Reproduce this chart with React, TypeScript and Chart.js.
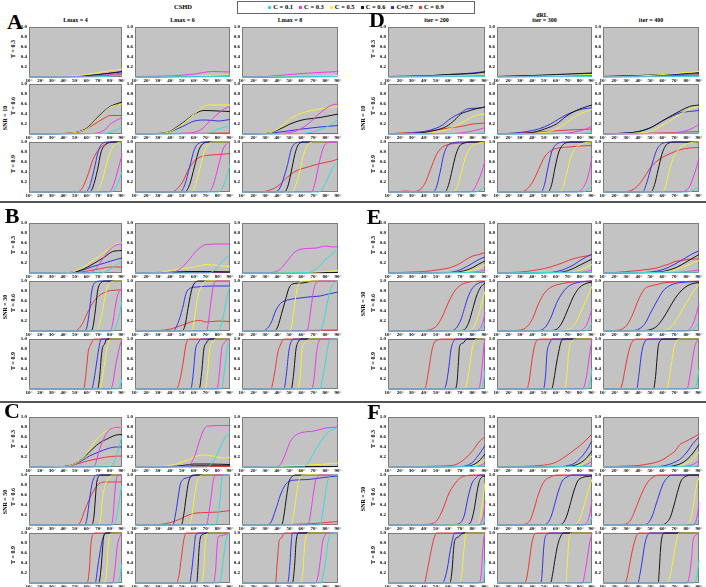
import React, { useEffect, useRef } from 'react';
import { Chart, registerables } from 'chart.js';
Chart.register(...registerables);

// ---- labels ----
const SERIES_LABELS = ['C = 0.1', 'C = 0.3', 'C = 0.5', 'C = 0.6', 'C=0.7', 'C = 0.9'];
const SERIES_COLORS = ['#3adada', '#e83ee8', '#f2f23a', '#151515', '#3434e6', '#ea3a3a'];
const CSHD_COLS = ['Lmax = 4', 'Lmax = 6', 'Lmax = 8'];
const DRL_COLS = ['iter = 200', 'iter = 300', 'iter = 400'];
const T_LABELS = ['T = 0.3', 'T = 0.6', 'T = 0.9'];
const SNR_LABELS = ['SNR = 10', 'SNR = 30', 'SNR = 50'];
const X_MIN = 10, X_MAX = 90, X_STEP = 10;
const Y_MIN = 0, Y_MAX = 1, Y_STEP = 0.2;

// Each series: flat list of (angle°, rate) pairs. Order: C=0.1, 0.3, 0.5, 0.6, 0.7, 0.9
// ---- Panel A: CSHD, SNR = 10 ----
const A11 = [
  [10,0,60,0,75,0.01,90,0.04],
  [10,0,60,0.01,80,0.05,90,0.08],
  [10,0,40,0.01,60,0.05,80,0.13,90,0.16],
  [10,0,50,0.01,70,0.05,90,0.11],
  [10,0,50,0.01,70,0.05,90,0.1],
  [10,0,60,0.01,90,0.05],
];
const A12 = [
  [10,0,90,0.01],
  [10,0,40,0.02,60,0.06,75,0.11,90,0.1],
  [10,0,50,0.02,90,0.04],
  [10,0,90,0.02],
  [10,0.01,90,0.02],
  [10,0,90,0.01],
];
const A13 = [
  [10,0,90,0.01],
  [10,0,30,0.01,60,0.07,90,0.11],
  [10,0,90,0.03],
  [10,0,90,0.02],
  [10,0,90,0.01],
  [10,0,90,0.01],
];
const A21 = [
  [10,0,75,0.01,85,0.08,90,0.15],
  [10,0,65,0.01,75,0.08,80,0.2,90,0.33],
  [10,0,40,0.01,50,0.03,60,0.11,70,0.34,80,0.54,90,0.6],
  [10,0,40,0.01,50,0.03,60,0.12,70,0.35,80,0.55,90,0.64],
  [10,0,40,0.01,50,0.03,60,0.12,70,0.36,80,0.55,90,0.6],
  [10,0,40,0.01,55,0.05,65,0.18,75,0.32,80,0.37,90,0.37],
];
const A22 = [
  [10,0,70,0.01,80,0.1,90,0.17],
  [10,0,55,0.02,65,0.08,75,0.3,85,0.5,90,0.55],
  [10,0,35,0.02,50,0.2,60,0.4,72,0.58,90,0.58],
  [10,0,35,0.02,50,0.22,60,0.4,68,0.47,80,0.46,90,0.45],
  [10,0,35,0.02,50,0.15,60,0.26,70,0.28,80,0.26,90,0.29],
  [10,0,90,0.02],
];
const A23 = [
  [10,0,60,0.01,70,0.05,85,0.2,90,0.3],
  [10,0,40,0.01,55,0.06,65,0.2,75,0.42,85,0.58,90,0.6],
  [10,0,30,0.01,40,0.1,50,0.3,60,0.42,75,0.5,90,0.55],
  [10,0,30,0.01,40,0.08,50,0.2,60,0.28,75,0.33,90,0.4],
  [10,0,30,0.01,45,0.05,60,0.1,75,0.14,90,0.17],
  [10,0,90,0.01],
];
const A31 = [
  [10,0,80,0,85,0.1,90,0.4],
  [10,0,78,0,82,0.1,86,0.4,90,0.75],
  [10,0,68,0,72,0.15,76,0.5,80,0.8,85,0.97,90,1],
  [10,0,62,0,65,0.1,69,0.45,72,0.8,76,0.95,82,1,90,1],
  [10,0,58,0,62,0.1,66,0.45,70,0.85,73,0.97,78,1,90,1],
  [10,0,50,0,55,0.05,60,0.3,65,0.65,70,0.85,75,0.95,80,0.99,90,1],
];
const A32 = [
  [10,0,80,0,84,0.1,87,0.3,90,0.55],
  [10,0,72,0,76,0.15,80,0.5,84,0.85,88,0.98,90,1],
  [10,0,57,0,61,0.15,65,0.5,69,0.85,73,0.98,76,1,90,1],
  [10,0,52,0,56,0.15,60,0.5,64,0.85,68,0.98,72,1,90,1],
  [10,0,48,0,52,0.15,56,0.5,60,0.85,64,0.98,68,1,90,1],
  [10,0,40,0,45,0.05,50,0.2,55,0.45,60,0.62,65,0.7,70,0.73,80,0.75,90,0.77],
];
const A33 = [
  [10,0,74,0,78,0.1,82,0.3,86,0.5,90,0.62],
  [10,0,68,0,71,0.2,74,0.55,78,0.9,82,0.99,90,1],
  [10,0,52,0,55,0.15,58,0.4,62,0.8,65,0.95,70,1,90,1],
  [10,0,45,0,48,0.1,51,0.4,54,0.75,57,0.95,62,1,90,1],
  [10,0,38,0,42,0.1,45,0.3,48,0.55,51,0.85,55,0.98,60,1,90,1],
  [10,0,25,0,32,0.03,40,0.12,48,0.3,55,0.42,65,0.5,75,0.57,85,0.62,90,0.66],
];

// ---- Panel B: CSHD, SNR = 30 ----
const B11 = [
  [10,0,72,0,80,0.08,85,0.16,90,0.25],
  [10,0,62,0,68,0.1,74,0.3,80,0.48,85,0.56,90,0.58],
  [10,0,45,0.01,55,0.1,65,0.25,75,0.42,85,0.58,90,0.6],
  [10,0,45,0.01,55,0.06,65,0.18,75,0.32,82,0.43,90,0.45],
  [10,0,45,0.01,55,0.05,65,0.13,75,0.2,85,0.27,90,0.3],
  [10,0,50,0.01,60,0.04,70,0.08,80,0.12,90,0.12],
];
const B12 = [
  [10,0,72,0,78,0.08,84,0.25,90,0.37],
  [10,0,40,0.01,48,0.08,55,0.25,62,0.45,70,0.57,80,0.58,90,0.58],
  [10,0,30,0.01,40,0.05,50,0.09,60,0.12,70,0.17,80,0.15,90,0.13],
  [10,0,40,0.01,55,0.03,70,0.03,90,0.02],
  [10,0,50,0.02,70,0.02,90,0.02],
  [10,0,90,0.01],
];
const B13 = [
  [10,0,65,0.01,72,0.08,80,0.28,90,0.48],
  [10,0,35,0.01,42,0.08,48,0.25,54,0.42,60,0.48,72,0.5,80,0.54,85,0.52,90,0.53],
  [10,0,60,0.01,80,0.03,90,0.05],
  [10,0,90,0.01],
  [10,0,90,0.01],
  [10,0,90,0.01],
];
const B21 = [
  [10,0,82,0,85,0.1,88,0.35,90,0.6],
  [10,0,80,0,82,0.15,84,0.45,86,0.7,88,0.8,90,0.82],
  [10,0,68,0,71,0.15,74,0.5,77,0.85,80,0.97,84,1,90,1],
  [10,0,63,0,65,0.08,67,0.4,69,0.8,72,0.97,76,1,90,1],
  [10,0,58,0,60,0.1,62,0.4,64,0.8,67,0.97,72,1,90,1],
  [10,0,48,0,52,0.03,56,0.15,60,0.35,65,0.57,70,0.7,75,0.77,80,0.81,90,0.82],
];
const B22 = [
  [10,0,80,0,83,0.15,86,0.5,88,0.75,90,0.9],
  [10,0,70,0,72,0.2,74,0.6,76,0.9,78,1,90,1],
  [10,0,57,0,59,0.1,61,0.4,63,0.7,66,0.9,70,1,90,1],
  [10,0,49,0,52,0.1,55,0.5,58,0.85,61,0.98,64,1,90,1],
  [10,0,42,0,46,0.15,50,0.45,53,0.75,56,0.85,62,0.88,75,0.9,90,0.9],
  [10,0,30,0.01,40,0.04,50,0.12,60,0.2,65,0.21,70,0.18,80,0.2,90,0.19],
];
const B23 = [
  [10,0,75,0,78,0.2,81,0.55,84,0.85,87,0.97,90,1],
  [10,0,64,0,66,0.2,68,0.55,70,0.85,72,0.97,76,1,90,1],
  [10,0,50,0,52,0.2,54,0.55,56,0.85,58,0.97,62,1,90,1],
  [10,0,37,0,40,0.1,43,0.35,46,0.6,49,0.85,52,0.94,60,0.96,70,1,90,1],
  [10,0,27,0,30,0.03,34,0.15,38,0.4,42,0.55,48,0.62,55,0.65,65,0.68,75,0.7,82,0.74,90,0.78],
  [10,0,60,0.01,90,0.02],
];
const B31 = [
  [10,0,86,0,88,0.05,90,0.2],
  [10,0,80,0,82,0.1,84,0.4,86,0.65,88,0.85,90,1],
  [10,0,71,0,73,0.2,75,0.5,77,0.8,80,1,90,1],
  [10,0,69,0,71,0.3,72,0.6,73,0.8,75,0.9,77,1,90,1],
  [10,0,64,0,66,0.2,68,0.5,70,0.8,72,1,90,1],
  [10,0,57,0,59,0.3,61,0.75,63,0.88,66,1,90,1],
];
const B32 = [
  [10,0,83,0,85,0.3,87,0.7,88,0.88,90,0.95],
  [10,0,79,0,81,0.3,83,0.8,85,0.92,87,0.97,90,1],
  [10,0,69,0,71,0.3,73,0.8,75,0.92,78,1,90,1],
  [10,0,64,0,66,0.3,68,0.8,70,0.92,73,1,90,1],
  [10,0,57,0,59,0.3,61,0.8,63,0.92,66,1,90,1],
  [10,0,45,0,48,0.2,51,0.6,53,0.9,56,1,90,1],
];
const B33 = [
  [10,0,75,0,77,0.2,80,0.6,82,0.9,84,1,90,1],
  [10,0,68,0,70,0.2,72,0.7,74,0.95,77,1,90,1],
  [10,0,57,0,59,0.4,60,0.8,63,0.93,66,1,90,1],
  [10,0,51,0,53,0.3,55,0.8,57,0.95,60,1,90,1],
  [10,0,45,0,47,0.3,49,0.75,51,0.95,54,1,90,1],
  [10,0,34,0,37,0.3,40,0.75,42,0.88,45,1,90,1],
];

// ---- Panel C: CSHD, SNR = 50 ----
const C11 = [
  [10,0,78,0,82,0.05,85,0.2,88,0.45,90,0.62],
  [10,0,64,0,67,0.05,70,0.3,74,0.55,78,0.72,83,0.78,90,0.8],
  [10,0,40,0.01,48,0.05,55,0.15,62,0.35,68,0.55,75,0.7,82,0.77,90,0.8],
  [10,0,40,0.01,48,0.05,55,0.15,62,0.3,70,0.47,78,0.57,85,0.64,90,0.65],
  [10,0,40,0.01,48,0.05,55,0.12,62,0.22,70,0.3,78,0.37,85,0.4,90,0.4],
  [10,0,40,0.01,50,0.05,60,0.12,70,0.17,80,0.21,90,0.22],
];
const C12 = [
  [10,0,70,0,74,0.05,78,0.2,82,0.4,86,0.6,90,0.7],
  [10,0,50,0.01,56,0.05,60,0.2,64,0.5,68,0.75,72,0.82,90,0.83],
  [10,0,30,0.01,45,0.06,55,0.15,62,0.22,68,0.24,75,0.22,85,0.18,90,0.19],
  [10,0,40,0.01,50,0.03,60,0.06,70,0.06,90,0.05],
  [10,0,50,0.01,60,0.03,90,0.03],
  [10,0,90,0.01],
];
const C13 = [
  [10,0,60,0,64,0.05,68,0.2,74,0.45,80,0.65,85,0.75,90,0.78],
  [10,0,38,0,42,0.05,46,0.25,50,0.5,55,0.64,60,0.69,70,0.72,80,0.78,90,0.8],
  [10,0,40,0.01,60,0.03,80,0.06,90,0.08],
  [10,0,90,0.01],
  [10,0,90,0.01],
  [10,0,90,0.01],
];
const C21 = [
  [10,0,82,0,84,0.05,86,0.25,88,0.55,90,0.8],
  [10,0,80,0,82,0.1,83,0.4,84,0.7,85,0.9,87,1,90,1],
  [10,0,70,0,72,0.2,73,0.5,75,0.75,78,0.92,82,1,90,1],
  [10,0,64,0,66,0.2,67,0.5,68,0.8,70,0.98,72,1,90,1],
  [10,0,58,0,60,0.15,62,0.5,64,0.8,66,0.95,68,1,90,1],
  [10,0,50,0,54,0.05,58,0.3,62,0.52,66,0.7,70,0.82,75,0.86,90,0.86],
];
const C22 = [
  [10,0,78,0,80,0.2,82,0.6,83,0.9,85,1,90,1],
  [10,0,70,0,72,0.2,74,0.55,76,0.9,78,1,90,1],
  [10,0,56,0,58,0.2,60,0.55,62,0.85,64,0.97,68,1,90,1],
  [10,0,49,0,51,0.2,53,0.55,55,0.85,57,0.97,60,1,90,1],
  [10,0,42,0,44,0.2,46,0.5,48,0.8,50,0.9,55,0.95,62,1,90,1],
  [10,0,30,0.01,40,0.05,48,0.12,55,0.2,62,0.24,70,0.25,80,0.26,90,0.29],
];
const C23 = [
  [10,0,75,0,77,0.2,79,0.55,81,0.85,83,0.97,86,1,90,1],
  [10,0,65,0,67,0.2,69,0.55,71,0.85,73,0.97,76,1,90,1],
  [10,0,51,0,53,0.2,55,0.55,57,0.85,59,0.97,62,1,90,1],
  [10,0,43,0,45,0.2,47,0.55,49,0.85,51,0.95,55,1,90,1],
  [10,0,30,0,34,0.05,38,0.3,42,0.6,46,0.8,50,0.88,55,0.9,65,0.91,75,0.94,85,0.97,90,0.98],
  [10,0,50,0.01,60,0.02,70,0.03,80,0.05,90,0.07],
];
const C31 = [
  [10,0,86,0,88,0.1,90,0.4],
  [10,0,82,0,84,0.3,86,0.75,88,0.92,90,1],
  [10,0,75,0,77,0.3,78,0.7,79,0.9,81,1,90,1],
  [10,0,70,0,72,0.3,73,0.6,74,0.9,76,1,90,1],
  [10,0,67,0,69,0.3,71,0.6,73,0.85,75,0.97,78,1,90,1],
  [10,0,60,0,62,0.3,63,0.7,64,0.9,66,1,90,1],
];
const C32 = [
  [10,0,81,0,83,0.2,85,0.6,87,0.9,90,1],
  [10,0,76,0,78,0.3,79,0.7,80,0.92,83,0.95,90,1],
  [10,0,66,0,68,0.3,69,0.7,70,0.95,72,1,90,1],
  [10,0,62,0,63,0.3,64,0.7,65,0.9,67,0.97,70,1,90,1],
  [10,0,56,0,58,0.3,60,0.75,61,0.95,64,1,90,1],
  [10,0,45,0,47,0.15,49,0.5,51,0.85,53,1,90,1],
];
const C33 = [
  [10,0,76,0,78,0.2,80,0.5,82,0.85,84,1,90,1],
  [10,0,71,0,73,0.1,75,0.4,77,0.8,79,0.95,81,1,90,1],
  [10,0,59,0,61,0.3,62,0.7,63,0.9,66,1,90,1],
  [10,0,52,0,54,0.4,55,0.8,57,1,90,1],
  [10,0,48,0,50,0.4,51,0.8,52,1,90,1],
  [10,0,38,0,39,0.3,40,0.6,41,0.85,43,0.9,45,1,90,1],
];

// ---- Panel D: dRL, SNR = 10 ----
const D11 = [
  [10,0,90,0.01],
  [10,0,50,0.01,90,0.02],
  [10,0,50,0.02,90,0.04],
  [10,0.01,40,0.02,60,0.05,80,0.07,90,0.1],
  [10,0.01,40,0.02,60,0.05,80,0.08,90,0.11],
  [10,0.01,50,0.02,90,0.03],
];
const D12 = [
  [10,0,90,0.01],
  [10,0,50,0.01,90,0.02],
  [10,0,50,0.02,90,0.05],
  [10,0.01,40,0.03,60,0.05,80,0.07,90,0.08],
  [10,0.01,40,0.02,60,0.04,80,0.06,90,0.07],
  [10,0.01,50,0.02,90,0.03],
];
const D13 = [
  [10,0,90,0.01],
  [10,0,90,0.02],
  [10,0,40,0.02,60,0.05,80,0.09,90,0.11],
  [10,0.01,40,0.03,60,0.05,80,0.07,90,0.09],
  [10,0.01,40,0.02,60,0.04,80,0.06,90,0.07],
  [10,0.01,50,0.02,90,0.04],
];
const D21 = [
  [10,0,80,0.01,90,0.02],
  [10,0,65,0.01,75,0.04,85,0.09,90,0.13],
  [10,0,40,0.01,50,0.04,60,0.1,67,0.18,75,0.28,82,0.37,90,0.4],
  [10,0,30,0.01,40,0.03,50,0.08,58,0.15,65,0.28,70,0.4,75,0.45,82,0.5,90,0.54],
  [10,0,30,0.02,40,0.05,50,0.12,55,0.18,60,0.28,65,0.36,70,0.42,75,0.5,85,0.52,90,0.54],
  [10,0,20,0.02,30,0.03,40,0.05,50,0.08,60,0.12,70,0.15,80,0.2,90,0.22],
];
const D22 = [
  [10,0,80,0.01,90,0.03],
  [10,0,65,0.01,75,0.04,85,0.1,90,0.16],
  [10,0,40,0.01,50,0.03,60,0.1,70,0.25,78,0.38,85,0.45,90,0.5],
  [10,0,30,0.01,40,0.03,50,0.1,60,0.2,68,0.35,75,0.45,82,0.52,90,0.58],
  [10,0,25,0.02,35,0.05,45,0.1,55,0.2,62,0.3,68,0.38,75,0.45,82,0.5,90,0.52],
  [10,0,30,0.02,50,0.05,70,0.08,90,0.1],
];
const D23 = [
  [10,0,90,0.02],
  [10,0,65,0.01,75,0.04,85,0.12,90,0.2],
  [10,0,40,0.02,50,0.06,60,0.18,70,0.33,78,0.45,85,0.52,90,0.55],
  [10,0,30,0.02,40,0.05,50,0.13,60,0.27,68,0.38,75,0.47,82,0.55,90,0.58],
  [10,0,30,0.02,40,0.05,50,0.13,60,0.27,68,0.36,75,0.43,82,0.45,90,0.47],
  [10,0,40,0.01,70,0.03,90,0.05],
];
const D31 = [
  [10,0,82,0,86,0.04,90,0.12],
  [10,0,77,0,80,0.03,83,0.15,87,0.38,90,0.62],
  [10,0,64,0,67,0.1,70,0.35,73,0.62,76,0.82,80,0.93,85,0.98,90,1],
  [10,0,57,0,60,0.15,63,0.45,66,0.75,69,0.92,73,0.98,78,1,90,1],
  [10,0,47,0,50,0.1,53,0.4,56,0.75,59,0.92,63,0.98,68,1,90,1],
  [10,0,20,0.01,25,0.02,30,0.01,35,0.03,40,0.15,45,0.45,50,0.75,55,0.9,60,0.95,70,0.98,80,1,90,1],
];
const D32 = [
  [10,0,82,0,86,0.04,90,0.14],
  [10,0,78,0,82,0.07,85,0.2,88,0.45,90,0.72],
  [10,0,63,0,66,0.12,69,0.4,72,0.68,76,0.87,80,0.95,85,0.99,90,1],
  [10,0,53,0,56,0.15,59,0.5,62,0.8,65,0.93,69,0.99,74,1,90,1],
  [10,0,47,0,50,0.15,53,0.5,56,0.8,59,0.93,63,0.99,68,1,90,1],
  [10,0,30,0,35,0.05,40,0.2,45,0.45,50,0.7,55,0.82,60,0.87,70,0.9,80,0.92,90,0.93],
];
const D33 = [
  [10,0,80,0,85,0.03,90,0.1],
  [10,0,75,0,79,0.03,82,0.1,85,0.28,88,0.5,90,0.68],
  [10,0,59,0,62,0.1,65,0.4,68,0.65,72,0.82,76,0.92,82,0.98,88,1,90,1],
  [10,0,50,0,53,0.15,56,0.45,59,0.75,62,0.92,65,0.98,70,1,90,1],
  [10,0,43,0,46,0.15,49,0.4,52,0.65,55,0.85,58,0.95,62,0.99,66,1,90,1],
  [10,0,25,0,30,0.01,35,0.05,40,0.15,45,0.32,50,0.5,55,0.62,60,0.7,65,0.76,70,0.81,75,0.85,82,0.88,90,0.89],
];

// ---- Panel E: dRL, SNR = 30 ----
const E11 = [
  [10,0,80,0.01,90,0.03],
  [10,0,75,0.01,85,0.03,90,0.07],
  [10,0,70,0.01,75,0.03,80,0.06,85,0.1,90,0.16],
  [10,0,65,0.01,70,0.03,75,0.06,80,0.11,85,0.18,90,0.24],
  [10,0,60,0.01,65,0.03,70,0.07,75,0.13,80,0.2,85,0.27,90,0.32],
  [10,0,20,0.01,30,0.02,40,0.03,50,0.06,60,0.1,65,0.14,70,0.2,75,0.28,80,0.34,85,0.37,90,0.41],
];
const E12 = [
  [10,0,90,0.02],
  [10,0,75,0.01,85,0.03,90,0.06],
  [10,0,70,0.01,75,0.03,80,0.06,85,0.11,90,0.17],
  [10,0,60,0.01,65,0.02,70,0.05,75,0.1,80,0.16,85,0.22,90,0.28],
  [10,0,55,0.01,60,0.03,65,0.06,70,0.11,75,0.17,80,0.25,85,0.32,90,0.38],
  [10,0,20,0.01,30,0.02,40,0.05,50,0.09,55,0.12,60,0.16,65,0.2,70,0.25,75,0.29,80,0.32,85,0.34,90,0.35],
];
const E13 = [
  [10,0,90,0.02],
  [10,0,70,0.01,80,0.03,90,0.06],
  [10,0,55,0.01,65,0.03,70,0.06,75,0.1,80,0.15,85,0.2,90,0.25],
  [10,0,50,0.01,60,0.03,65,0.06,70,0.1,75,0.16,80,0.23,85,0.3,90,0.37],
  [10,0,45,0.01,50,0.02,55,0.04,60,0.07,65,0.12,70,0.18,75,0.25,80,0.32,85,0.39,90,0.44],
  [10,0,20,0.01,30,0.03,40,0.05,50,0.08,55,0.1,60,0.14,65,0.18,70,0.23,75,0.25,80,0.27,85,0.28,90,0.28],
];
const E21 = [
  [10,0,85,0,88,0.05,90,0.16],
  [10,0,82,0,85,0.03,88,0.15,90,0.37],
  [10,0,76,0.01,80,0.05,83,0.2,86,0.45,88,0.62,90,0.8],
  [10,0,70,0.01,74,0.05,77,0.2,80,0.45,83,0.7,86,0.86,90,0.96],
  [10,0,62,0.01,66,0.05,70,0.22,73,0.45,76,0.68,80,0.87,85,0.96,90,0.99],
  [10,0,40,0.01,45,0.03,50,0.1,55,0.3,60,0.58,65,0.8,70,0.92,75,0.97,80,0.99,90,1],
];
const E22 = [
  [10,0,84,0,87,0.04,90,0.16],
  [10,0,78,0,82,0.03,86,0.15,90,0.45],
  [10,0,65,0.01,70,0.03,75,0.12,80,0.35,85,0.62,90,0.9],
  [10,0,55,0.01,60,0.03,65,0.18,70,0.45,75,0.72,80,0.88,85,0.95,90,0.98],
  [10,0,45,0.01,50,0.06,55,0.25,60,0.55,65,0.76,70,0.89,75,0.95,80,0.98,90,1],
  [10,0,25,0.01,30,0.02,35,0.08,40,0.25,45,0.55,50,0.76,55,0.87,60,0.92,70,0.97,80,0.99,90,1],
];
const E23 = [
  [10,0,82,0,86,0.05,90,0.18],
  [10,0,78,0,82,0.03,86,0.2,90,0.55],
  [10,0,60,0.01,65,0.05,70,0.18,75,0.38,80,0.58,85,0.78,90,0.93],
  [10,0,45,0.01,50,0.03,55,0.1,60,0.25,65,0.45,70,0.65,75,0.8,80,0.9,85,0.95,90,0.97],
  [10,0,35,0.01,40,0.04,45,0.15,50,0.38,55,0.6,60,0.8,65,0.9,70,0.95,80,0.98,90,0.99],
  [10,0,20,0.01,25,0.03,30,0.12,35,0.35,40,0.65,45,0.85,50,0.9,55,0.93,60,0.96,70,0.98,80,0.99,90,1],
];
const E31 = [
  [10,0,86,0,88,0.05,90,0.38],
  [10,0,84,0,86,0.1,88,0.55,89,0.85,90,1],
  [10,0,73,0,75,0.1,77,0.4,79,0.75,81,0.95,84,1,90,1],
  [10,0,65,0,67,0.15,68,0.5,69,0.85,72,0.92,75,1,90,1],
  [10,0,56,0,58,0.1,60,0.4,62,0.8,64,0.95,66,1,90,1],
  [10,0,40,0,42,0.15,44,0.45,46,0.75,48,0.92,50,0.97,55,1,90,1],
];
const E32 = [
  [10,0,86,0,88,0.1,90,0.4],
  [10,0,82,0,84,0.1,86,0.35,88,0.7,90,1],
  [10,0,67,0,69,0.3,70,0.65,71,0.85,73,0.95,76,1,90,1],
  [10,0,56,0,58,0.2,60,0.5,62,0.75,64,0.95,67,1,90,1],
  [10,0,49,0,51,0.3,52,0.7,54,0.9,57,1,90,1],
  [10,0,35,0,37,0.15,39,0.5,41,0.8,43,0.95,47,1,90,1],
];
const E33 = [
  [10,0,85,0,88,0.1,90,0.4],
  [10,0,80,0,82,0.2,84,0.5,86,0.8,88,0.95,90,1],
  [10,0,63,0,65,0.2,67,0.5,69,0.8,71,0.95,74,1,90,1],
  [10,0,52,0,54,0.3,55,0.6,56,0.85,58,0.97,61,1,90,1],
  [10,0,38,0,40,0.3,42,0.7,44,0.9,46,0.98,50,1,90,1],
  [10,0,24,0,26,0.1,28,0.35,30,0.6,32,0.8,34,0.93,37,1,90,1],
];

// ---- Panel F: dRL, SNR = 50 ----
const F11 = [
  [10,0,85,0.01,90,0.03],
  [10,0,82,0.01,86,0.03,90,0.08],
  [10,0,78,0.01,83,0.04,87,0.09,90,0.15],
  [10,0,75,0.01,80,0.04,85,0.12,90,0.26],
  [10,0,70,0.01,75,0.03,80,0.1,85,0.25,90,0.43],
  [10,0,40,0.01,55,0.02,62,0.03,66,0.05,70,0.1,75,0.2,80,0.33,85,0.5,90,0.61],
];
const F12 = [
  [10,0,85,0.01,90,0.03],
  [10,0,80,0.01,85,0.04,90,0.12],
  [10,0,75,0.01,80,0.04,85,0.1,90,0.22],
  [10,0,70,0.01,75,0.03,80,0.08,85,0.17,90,0.32],
  [10,0,65,0.01,70,0.03,75,0.07,80,0.17,85,0.32,90,0.52],
  [10,0,30,0.01,40,0.02,50,0.04,55,0.06,60,0.1,65,0.17,70,0.25,75,0.34,80,0.43,85,0.54,90,0.66],
];
const F13 = [
  [10,0,85,0.01,90,0.03],
  [10,0,75,0.01,80,0.02,85,0.05,90,0.13],
  [10,0,70,0.01,75,0.03,80,0.08,85,0.17,90,0.3],
  [10,0,65,0.01,70,0.03,75,0.07,80,0.15,85,0.28,90,0.45],
  [10,0,55,0.01,60,0.02,65,0.05,70,0.1,75,0.17,80,0.3,85,0.47,90,0.6],
  [10,0,20,0.01,30,0.02,40,0.03,45,0.05,50,0.07,55,0.1,60,0.15,65,0.23,70,0.32,74,0.45,78,0.5,82,0.55,86,0.6,90,0.66],
];
const F21 = [
  [10,0,87,0,89,0.05,90,0.18],
  [10,0,85,0,87,0.05,89,0.25,90,0.48],
  [10,0,82,0.01,85,0.05,87,0.3,89,0.65,90,0.85],
  [10,0,75,0.01,78,0.05,81,0.3,83,0.6,85,0.85,87,0.95,90,0.98],
  [10,0,65,0.01,70,0.05,73,0.2,76,0.55,79,0.82,82,0.93,86,1,90,1],
  [10,0,40,0.01,45,0.02,50,0.08,55,0.3,60,0.62,65,0.82,70,0.95,75,0.99,80,1,90,1],
];
const F22 = [
  [10,0,85,0,88,0.05,90,0.16],
  [10,0,82,0,85,0.03,88,0.2,90,0.5],
  [10,0,75,0.01,78,0.05,81,0.2,84,0.45,87,0.7,90,0.92],
  [10,0,63,0.01,66,0.05,69,0.2,72,0.45,75,0.7,78,0.88,82,0.95,90,0.98],
  [10,0,50,0.01,53,0.05,56,0.2,59,0.45,62,0.7,65,0.88,69,0.96,74,1,90,1],
  [10,0,30,0.01,35,0.03,38,0.1,41,0.3,44,0.55,47,0.75,50,0.88,55,0.96,60,1,90,1],
];
const F23 = [
  [10,0,86,0,88,0.05,90,0.14],
  [10,0,84,0,87,0.05,89,0.25,90,0.45],
  [10,0,78,0.01,81,0.04,84,0.2,86,0.5,88,0.8,90,0.95],
  [10,0,60,0.01,63,0.05,66,0.15,69,0.38,72,0.65,75,0.88,78,0.96,84,1,90,1],
  [10,0,45,0.01,48,0.05,51,0.18,54,0.4,57,0.62,60,0.82,63,0.93,67,1,90,1],
  [10,0,25,0.01,30,0.03,33,0.1,36,0.25,40,0.5,44,0.72,48,0.88,52,0.96,56,1,90,1],
];
const F31 = [
  [10,0,87,0,89,0.1,90,0.45],
  [10,0,85,0,87,0.2,88,0.6,89,0.9,90,1],
  [10,0,69,0,71,0.2,72,0.5,73,0.75,74,1,90,1],
  [10,0,61,0,63,0.3,64,0.65,65,0.85,68,0.92,72,1,90,1],
  [10,0,55,0,57,0.1,59,0.3,61,0.6,63,0.85,65,1,90,1],
  [10,0,40,0,42,0.2,44,0.45,46,0.7,48,0.9,50,1,90,1],
];
const F32 = [
  [10,0,88,0,90,0.05],
  [10,0,82,0,84,0.2,86,0.5,88,0.8,90,1],
  [10,0,68,0,69,0.3,70,0.7,71,0.95,73,1,90,1],
  [10,0,55,0,57,0.2,59,0.5,61,0.75,63,0.9,66,1,90,1],
  [10,0,47,0,48,0.2,49,0.6,50,0.85,52,0.97,55,1,90,1],
  [10,0,33,0,35,0.1,37,0.4,39,0.75,41,0.95,44,1,90,1],
];
const F33 = [
  [10,0,85,0,88,0.1,90,0.45],
  [10,0,80,0,82,0.15,84,0.55,85,0.85,87,0.95,90,1],
  [10,0,64,0,66,0.15,68,0.4,70,0.7,72,0.95,74,1,90,1],
  [10,0,56,0,57,0.3,58,0.7,59,0.9,61,1,90,1],
  [10,0,39,0,41,0.2,43,0.5,45,0.8,47,0.95,49,1,90,1],
  [10,0,28,0,30,0.1,32,0.35,34,0.6,36,0.8,38,0.95,40,1,90,1],
];

// ---- layout (pixels) ----
const AX_W = 14;   // y tick label gutter
const AX_H = 7;    // x tick label gutter
const PAD_T = 4;
const PAD_R = 6;
const PLOT_H = 51;
const LEFT_COLS = [[29, 93], [135, 95], [242, 96]];
const RIGHT_COLS = [[388, 97], [497, 95], [603, 96]];
const ROWS_TOP = [26, 83, 141];
const ROWS_MID = [222, 280, 338];
const ROWS_BOT = [416, 474, 532];

const SERIF = '"Liberation Serif", "Times New Roman", serif';
const TICK_FONT = { family: SERIF, size: 5, weight: 'bold' as const };

function toPoints(flat: number[]) {
  const out: { x: number; y: number }[] = [];
  for (let i = 0; i < flat.length; i += 2) out.push({ x: flat[i], y: flat[i + 1] });
  return out;
}

const framePlugin = {
  id: 'frame',
  beforeDatasetsDraw(chart: any) {
    const { ctx, chartArea: a } = chart;
    ctx.save();
    ctx.fillStyle = '#c3c3c3';
    ctx.fillRect(a.left, a.top, a.right - a.left, a.bottom - a.top);
    ctx.strokeStyle = '#7c7c7c';
    ctx.lineWidth = 1;
    ctx.strokeRect(Math.round(a.left) + 0.5, Math.round(a.top) + 0.5, Math.round(a.right - a.left) - 1, Math.round(a.bottom - a.top) - 1);
    ctx.restore();
  },
};

const GRID_OFF = { display: false, drawTicks: false, tickLength: 0 };

function SubChart({ series, x, y, w, h }: { series: number[][]; x: number; y: number; w: number; h: number }) {
  const ref = useRef<HTMLCanvasElement | null>(null);
  const cw = w + AX_W + PAD_R;
  const ch = h + PAD_T + AX_H;
  useEffect(() => {
    if (!ref.current) return;
    const chart = new Chart(ref.current, {
      type: 'line',
      data: {
        datasets: series.map((s, i) => ({
          label: SERIES_LABELS[i],
          data: toPoints(s),
          borderColor: SERIES_COLORS[i],
          backgroundColor: SERIES_COLORS[i],
          borderWidth: 1,
          pointRadius: 0,
          cubicInterpolationMode: 'monotone' as const,
          fill: false,
          clip: 2,
        })),
      },
      options: {
        responsive: false,
        maintainAspectRatio: false,
        animation: false,
        events: [],
        layout: { padding: { top: PAD_T, right: PAD_R, left: 0, bottom: 0 } },
        plugins: { legend: { display: false }, tooltip: { enabled: false }, title: { display: false } },
        scales: {
          x: {
            type: 'linear',
            min: X_MIN,
            max: X_MAX,
            grid: GRID_OFF,
            border: { display: false },
            ticks: {
              stepSize: X_STEP,
              autoSkip: false,
              maxRotation: 0,
              minRotation: 0,
              padding: 1,
              color: '#000',
              font: TICK_FONT,
              callback: (v: any) => `${v}°`,
            },
            afterFit: (s: any) => { s.height = AX_H; },
          },
          y: {
            type: 'linear',
            min: Y_MIN,
            max: Y_MAX,
            grid: GRID_OFF,
            border: { display: false },
            ticks: {
              stepSize: Y_STEP,
              autoSkip: false,
              padding: 2,
              color: '#000',
              font: TICK_FONT,
              callback: (v: any) => (Number(v) < 0.01 ? '' : Number(v).toFixed(1)),
            },
            afterFit: (s: any) => { s.width = AX_W; },
          },
        },
      },
      plugins: [framePlugin],
    });
    return () => chart.destroy();
  }, [series]);
  return (
    <canvas
      ref={ref}
      width={cw}
      height={ch}
      style={{ position: 'absolute', left: x - AX_W, top: y - PAD_T, width: cw, height: ch }}
    />
  );
}

type PanelDef = {
  letter: string;
  grid: number[][][][];
  cols: number[][];
  rows: number[];
  snr: string;
  letterPos: [number, number];
  tX: number;
  snrX: number;
  snrDy: number;
};

const PANELS: PanelDef[] = [
  { letter: 'A', grid: [[A11, A12, A13], [A21, A22, A23], [A31, A32, A33]], cols: LEFT_COLS, rows: ROWS_TOP, snr: SNR_LABELS[0], letterPos: [15, 22], tX: 13, snrX: 5, snrDy: 9 },
  { letter: 'B', grid: [[B11, B12, B13], [B21, B22, B23], [B31, B32, B33]], cols: LEFT_COLS, rows: ROWS_MID, snr: SNR_LABELS[1], letterPos: [12, 216], tX: 13, snrX: 5, snrDy: 1 },
  { letter: 'C', grid: [[C11, C12, C13], [C21, C22, C23], [C31, C32, C33]], cols: LEFT_COLS, rows: ROWS_BOT, snr: SNR_LABELS[2], letterPos: [12, 411], tX: 13, snrX: 5, snrDy: 2 },
  { letter: 'D', grid: [[D11, D12, D13], [D21, D22, D23], [D31, D32, D33]], cols: RIGHT_COLS, rows: ROWS_TOP, snr: SNR_LABELS[0], letterPos: [377, 20], tX: 373, snrX: 363, snrDy: 9 },
  { letter: 'E', grid: [[E11, E12, E13], [E21, E22, E23], [E31, E32, E33]], cols: RIGHT_COLS, rows: ROWS_MID, snr: SNR_LABELS[1], letterPos: [374, 217], tX: 373, snrX: 363, snrDy: -2 },
  { letter: 'F', grid: [[F11, F12, F13], [F21, F22, F23], [F31, F32, F33]], cols: RIGHT_COLS, rows: ROWS_BOT, snr: SNR_LABELS[2], letterPos: [374, 412], tX: 373, snrX: 363, snrDy: -1 },
];

function Txt({ x, y, size, children, rotate, weight = 'bold' }: any) {
  return (
    <div
      style={{
        position: 'absolute',
        left: x,
        top: y,
        transform: `translate(-50%, -50%)${rotate ? ' rotate(-90deg)' : ''}`,
        fontFamily: SERIF,
        fontWeight: weight,
        fontSize: size,
        lineHeight: 1,
        whiteSpace: 'nowrap',
        color: '#000',
      }}
    >
      {children}
    </div>
  );
}

export default function App() {
  return (
    <div style={{ position: 'fixed', left: 0, top: 0, width: 706, height: 587, background: '#fff', overflow: 'hidden' }}>
      {/* legend */}
      <div
        style={{
          position: 'absolute', left: 237, top: 1, width: 236, height: 11,
          border: '1px solid #666', display: 'flex', alignItems: 'center', justifyContent: 'center', gap: 6,
          fontFamily: SERIF, fontWeight: 'bold', fontSize: 6.5, lineHeight: 1,
        }}
      >
        {SERIES_LABELS.map((l, i) => (
          <span key={l} style={{ display: 'flex', alignItems: 'center', gap: 2 }}>
            <span style={{ display: 'inline-block', width: 3, height: 3, background: SERIES_COLORS[i] }} />
            <span>{l}</span>
          </span>
        ))}
      </div>
      <Txt x={183} y={7} size={6.5}>CSHD</Txt>
      <Txt x={542} y={14.5} size={6}>dRL</Txt>
      {CSHD_COLS.map((c, i) => (
        <Txt key={c} x={LEFT_COLS[i][0] + LEFT_COLS[i][1] / 2} y={19.5} size={6}>{c}</Txt>
      ))}
      {DRL_COLS.map((c, i) => (
        <Txt key={c} x={RIGHT_COLS[i][0] + RIGHT_COLS[i][1] / 2} y={20} size={6}>{c}</Txt>
      ))}
      {/* separators */}
      <div style={{ position: 'absolute', left: 0, top: 201, width: 706, height: 2, background: '#555' }} />
      <div style={{ position: 'absolute', left: 0, top: 401, width: 706, height: 2, background: '#555' }} />
      {PANELS.map((p) => (
        <React.Fragment key={p.letter}>
          <Txt x={p.letterPos[0]} y={p.letterPos[1]} size={22}>{p.letter}</Txt>
          {p.rows.map((ry, r) => (
            <Txt key={'t' + r} x={p.tX} y={ry + PLOT_H / 2 - 3} size={6} rotate>{T_LABELS[r]}</Txt>
          ))}
          <Txt x={p.snrX} y={p.rows[1] + PLOT_H / 2 + p.snrDy} size={6} rotate>{p.snr}</Txt>
          {p.grid.map((row, r) =>
            row.map((series, c) => (
              <SubChart
                key={`${p.letter}${r}${c}`}
                series={series}
                x={p.cols[c][0]}
                y={p.rows[r]}
                w={p.cols[c][1]}
                h={PLOT_H}
              />
            ))
          )}
        </React.Fragment>
      ))}
    </div>
  );
}
